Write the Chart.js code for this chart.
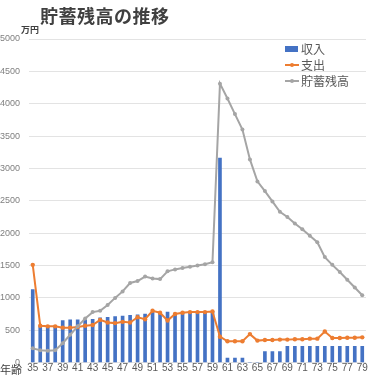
<!DOCTYPE html>
<html>
<head>
<meta charset="utf-8">
<script src="https://cdn.jsdelivr.net/npm/chart.js@4"></script>
<style>
  body { margin: 0; background: #fff; font-family: "Noto Sans CJK JP", sans-serif; }
  #wrap { position: relative; width: 370px; height: 377px; }
  #titulo { position: absolute; left: 40px; top: 2px; font-size: 18px; font-weight: bold; color: #404040; letter-spacing: 0.5px; }
  #unidad { position: absolute; left: 21px; top: 23px; font-size: 9px; font-weight: bold; color: #404040; }
  #edad { position: absolute; left: 0px; top: 361px; font-size: 11px; color: #404040; }
  #leyenda { position: absolute; left: 285px; top: 41px; font-size: 12px; color: #595959; line-height: 16px; }
  #leyenda div { display: flex; align-items: center; }
  .marca { width: 14px; height: 16px; position: relative; margin-right: 2px; }
</style>
</head>
<body>
<div id="wrap">
  <canvas id="grafico" width="370" height="377"></canvas>
  <div id="titulo">貯蓄残高の推移</div>
  <div id="unidad">万円</div>
  <div id="edad">年齢</div>
  <div id="leyenda"></div>
</div>
<script>
const edades = [35, 36, 37, 38, 39, 40, 41, 42, 43, 44, 45, 46, 47, 48, 49, 50, 51, 52, 53, 54, 55, 56, 57,
  58, 59, 60, 61, 62, 63, 64, 65, 66, 67, 68, 69, 70, 71, 72, 73, 74, 75, 76, 77, 78, 79];

const ingresos = [1130, 560, 560, 560, 650, 660, 660, 660, 670, 690, 700, 710, 720, 730, 740, 750, 780, 770, 780, 760, 780, 790, 790,
  790, 790, 3160, 70, 70, 70, 0, 0, 170, 170, 170, 250, 250, 250, 250, 250, 250, 250, 250, 250, 250, 250];

const gastos = [1510, 570, 560, 560, 540, 540, 550, 570, 580, 660, 620, 610, 630, 620, 700, 670, 800, 770, 650, 750, 770, 780, 780,
  780, 790, 400, 330, 330, 330, 440, 340, 350, 350, 355, 355, 360, 360, 370, 370, 480, 380, 380, 385, 385, 390];

const ahorros = [220, 190, 185, 190, 300, 430, 560, 680, 780, 800, 890, 1000, 1100, 1230, 1260, 1330, 1300, 1290, 1410, 1440, 1460, 1480, 1500,
  1520, 1550, 4310, 4080, 3840, 3600, 3140, 2800, 2650, 2490, 2330, 2250, 2150, 2060, 1960, 1860, 1630, 1510, 1400, 1280, 1160, 1040];

const series = ["収入", "支出", "貯蓄残高"];
const colores = ["#4472C4", "#ED7D31", "#A5A5A5"];

const ctx = document.getElementById("grafico").getContext("2d");

const chart = new Chart(ctx, {
  type: "bar",
  data: {
    labels: edades,
    datasets: [
      {
        type: "bar",
        label: series[0],
        data: ingresos,
        backgroundColor: colores[0],
        barThickness: 3,
        order: 2
      },
      {
        type: "line",
        label: series[1],
        data: gastos,
        borderColor: colores[1],
        backgroundColor: colores[1],
        borderWidth: 2,
        pointRadius: 2.2,
        pointBorderWidth: 0,
        order: 1
      },
      {
        type: "line",
        label: series[2],
        data: ahorros,
        borderColor: colores[2],
        backgroundColor: colores[2],
        borderWidth: 2,
        pointRadius: 2,
        pointBorderWidth: 0,
        order: 0
      }
    ]
  },
  options: {
    responsive: false,
    animation: false,
    layout: { padding: { top: 39, right: 3, left: 0, bottom: 0 } },
    plugins: {
      legend: { display: false },
      title: { display: false },
      tooltip: { enabled: false }
    },
    scales: {
      x: {
        grid: { display: false, drawTicks: false },
        border: { display: false },
        ticks: {
          autoSkip: false,
          maxRotation: 0,
          color: "#595959",
          font: { size: 10, family: "Liberation Sans" },
          padding: 0,
          callback: function (v, i) { return i % 2 === 0 ? this.getLabelForValue(v) : ""; }
        }
      },
      y: {
        min: 0,
        max: 5000,
        grid: { color: "#E3E3E3", drawTicks: false },
        border: { display: false },
        afterFit: (scale) => { scale.width = 29; },
        ticks: {
          stepSize: 500,
          color: "#808080",
          font: { size: 9, family: "Liberation Sans" },
          padding: 9,
          callback: (v) => String(v)
        }
      }
    }
  }
});

// Leyenda en HTML
const leyenda = document.getElementById("leyenda");
series.forEach((nombre, i) => {
  const fila = document.createElement("div");
  const marca = document.createElement("span");
  marca.className = "marca";
  if (i === 0) {
    marca.innerHTML = `<span style="position:absolute;left:0;top:5px;width:13px;height:6px;background:${colores[i]}"></span>`;
  } else {
    marca.innerHTML = `<span style="position:absolute;left:0;top:7px;width:14px;height:2px;background:${colores[i]}"></span>` +
      `<span style="position:absolute;left:5px;top:6px;width:4px;height:4px;border-radius:2px;background:${colores[i]}"></span>`;
  }
  fila.appendChild(marca);
  fila.appendChild(document.createTextNode(nombre));
  leyenda.appendChild(fila);
});
</script>
</body>
</html>
